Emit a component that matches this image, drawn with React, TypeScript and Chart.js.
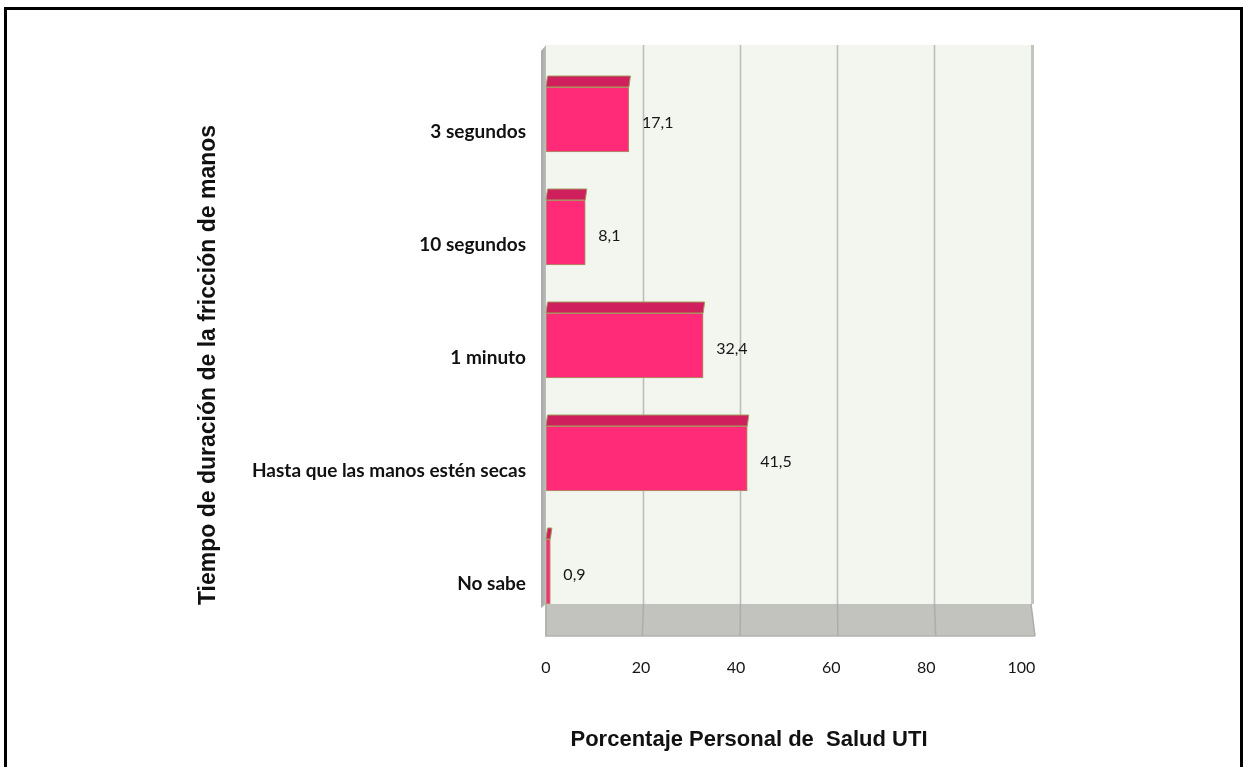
import { useEffect, useRef } from 'react';
import { Chart, registerables } from 'chart.js';

Chart.register(...registerables);

// Data
const categories = ['3 segundos', '10 segundos', '1 minuto', 'Hasta que las manos estén secas', 'No sabe'];
const percentages = [17.1, 8.1, 32.4, 41.5, 0.9];
const xTickValues = [0, 20, 40, 60, 80, 100];
const xTitle = 'Porcentaje Personal de  Salud UTI';
const yTitle = 'Tiempo de duración de la fricción de manos';

// Canvas and scene geometry
const W = 1244;
const H = 767;
const PLOT_LEFT = 546;
const PLOT_RIGHT = 1031;
const PLOT_TOP = 63;
const PLOT_BOTTOM = 628;
const WALL_TOP = 45;
const FLOOR_TOP = 604;
const FLOOR_BOTTOM = 636;
const BAR_DEPTH = 11;
const FRONT_SCALE = 0.98; // front edge of the floor is slightly narrower than the back wall
const TICK_LABEL_Y = 668;

const BAR_FRONT = '#FF2B79';
const BAR_TOP = '#CF1F5D';
const BAR_EDGE = '#A29C5E';
const WALL = '#F3F5EF';
const FLOOR = '#C2C3BE';
const GRID = '#BEBEBC';

const CAT_FONT = 'Lato, "Open Sans", sans-serif';
const TITLE_FONT = '"Liberation Sans", Arial, sans-serif';

const formatValue = (v: number) => v.toFixed(1).replace('.', ',');

const scenePlugin = {
  id: 'scene3d',
  beforeDraw(chart: any) {
    const { ctx } = chart;
    const xs = chart.scales.x;
    ctx.save();
    ctx.fillStyle = '#ffffff';
    ctx.fillRect(0, 0, W, H);

    const x0 = xs.getPixelForValue(0);
    const x100 = xs.getPixelForValue(100);

    // back wall
    ctx.fillStyle = WALL;
    ctx.fillRect(x0, WALL_TOP, x100 - x0, FLOOR_TOP - WALL_TOP);

    // floor
    ctx.fillStyle = FLOOR;
    ctx.beginPath();
    ctx.moveTo(x0 - 1, FLOOR_TOP);
    ctx.lineTo(x100, FLOOR_TOP);
    ctx.lineTo(x100 + 4, FLOOR_BOTTOM);
    ctx.lineTo(x0 - 1, FLOOR_BOTTOM);
    ctx.closePath();
    ctx.fill();
    ctx.strokeStyle = '#B2B3AE';
    ctx.lineWidth = 1.5;
    ctx.beginPath();
    ctx.moveTo(x0 - 1, FLOOR_BOTTOM);
    ctx.lineTo(x100 + 4, FLOOR_BOTTOM);
    ctx.stroke();

    // vertical grid lines on wall and floor
    ctx.lineWidth = 1.6;
    xTickValues.forEach((v) => {
      if (v === 0 || v === 100) return;
      const px = Math.round(xs.getPixelForValue(v)) + 0.5;
      ctx.strokeStyle = GRID;
      ctx.beginPath();
      ctx.moveTo(px, WALL_TOP);
      ctx.lineTo(px, FLOOR_TOP);
      ctx.stroke();
      ctx.strokeStyle = '#ADAEA9';
      ctx.beginPath();
      ctx.moveTo(px, FLOOR_TOP);
      ctx.lineTo(px + (v - 50) / 25, FLOOR_BOTTOM);
      ctx.stroke();
    });

    // right wall edge
    ctx.strokeStyle = '#C4C4C2';
    ctx.lineWidth = 3;
    ctx.beginPath();
    ctx.moveTo(x100 + 1.5, WALL_TOP);
    ctx.lineTo(x100 + 1.5, FLOOR_TOP);
    ctx.stroke();
    ctx.strokeStyle = '#ADAEA9';
    ctx.lineWidth = 1.5;
    ctx.beginPath();
    ctx.moveTo(x100, FLOOR_TOP);
    ctx.lineTo(x100 + 4, FLOOR_BOTTOM);
    ctx.stroke();

    // left side wall, seen edge-on
    const g = ctx.createLinearGradient(x0 - 5, 0, x0, 0);
    g.addColorStop(0, '#A6A6A6');
    g.addColorStop(1, '#BDBDBD');
    ctx.fillStyle = g;
    ctx.beginPath();
    ctx.moveTo(x0 - 5, WALL_TOP + 6);
    ctx.lineTo(x0, WALL_TOP);
    ctx.lineTo(x0, FLOOR_TOP);
    ctx.lineTo(x0 - 5, FLOOR_TOP + 4);
    ctx.closePath();
    ctx.fill();
    ctx.fillStyle = '#B4B5B0';
    ctx.fillRect(x0 - 1, FLOOR_TOP, 2, FLOOR_BOTTOM - FLOOR_TOP);
    ctx.restore();
  },
  afterDatasetsDraw(chart: any) {
    const { ctx } = chart;
    const meta = chart.getDatasetMeta(0);
    ctx.save();
    meta.data.forEach((bar: any, i: number) => {
      const { x, y, base, height } = bar.getProps(['x', 'y', 'base', 'height'], true);
      const top = y - height / 2;
      // top face of the box
      ctx.fillStyle = BAR_TOP;
      ctx.strokeStyle = BAR_EDGE;
      ctx.lineWidth = 1;
      ctx.beginPath();
      ctx.moveTo(base, top);
      ctx.lineTo(x, top);
      ctx.lineTo(x + 1.5, top - BAR_DEPTH);
      ctx.lineTo(base + 1.5, top - BAR_DEPTH);
      ctx.closePath();
      ctx.fill();
      ctx.stroke();
      // value label
      ctx.fillStyle = '#161616';
      ctx.font = `16px ${CAT_FONT}`;
      ctx.textAlign = 'left';
      ctx.textBaseline = 'middle';
      ctx.fillText(formatValue(percentages[i]), x + 13, y + 3);
    });
    ctx.restore();
  },
  afterDraw(chart: any) {
    const { ctx } = chart;
    const xs = chart.scales.x;
    const x0 = xs.getPixelForValue(0);

    // value axis labels along the front edge of the floor
    ctx.save();
    ctx.fillStyle = '#161616';
    ctx.font = `16px ${CAT_FONT}`;
    ctx.textAlign = 'center';
    ctx.textBaseline = 'middle';
    xTickValues.forEach((v) => {
      const px = x0 + (xs.getPixelForValue(v) - x0) * FRONT_SCALE;
      ctx.fillText(String(v), px, TICK_LABEL_Y);
    });
    ctx.restore();

    // axis titles
    ctx.save();
    ctx.fillStyle = '#111111';
    ctx.font = `bold 22px ${TITLE_FONT}`;
    ctx.textAlign = 'center';
    ctx.textBaseline = 'middle';
    ctx.fillText(xTitle, 749, 740);
    ctx.font = `bold 23px ${TITLE_FONT}`;
    ctx.translate(209, 365);
    ctx.rotate(-Math.PI / 2);
    ctx.fillText(yTitle, 0, 0);
    ctx.restore();

    // frame
    ctx.save();
    ctx.strokeStyle = '#000000';
    ctx.lineWidth = 3;
    ctx.strokeRect(5.5, 8.5, 1241.5 - 5.5, H + 20);
    ctx.restore();
  },
};

export default function App() {
  const ref = useRef<HTMLCanvasElement | null>(null);

  useEffect(() => {
    if (!ref.current) return;
    const chart = new Chart(ref.current, {
      type: 'bar',
      data: {
        labels: categories,
        datasets: [
          {
            data: percentages,
            backgroundColor: BAR_FRONT,
            borderColor: BAR_EDGE,
            borderWidth: 1,
            borderSkipped: false,
            barThickness: 65,
          },
        ],
      },
      options: {
        indexAxis: 'y',
        responsive: false,
        animation: false,
        devicePixelRatio: 1,
        layout: { padding: { left: 0, top: PLOT_TOP, right: W - PLOT_RIGHT, bottom: 0 } },
        plugins: { legend: { display: false }, tooltip: { enabled: false } },
        scales: {
          x: {
            type: 'linear',
            min: 0,
            max: 100,
            afterBuildTicks: (scale: any) => {
              scale.ticks = xTickValues.map((v) => ({ value: v }));
            },
            afterFit: (scale: any) => {
              scale.height = H - PLOT_BOTTOM;
            },
            grid: { display: false, drawTicks: false },
            border: { display: false },
            ticks: { display: false },
          },
          y: {
            type: 'category',
            afterFit: (scale: any) => {
              scale.width = PLOT_LEFT;
            },
            grid: { display: false, drawTicks: false },
            border: { display: false },
            ticks: {
              padding: 20,
              labelOffset: 12,
              color: '#111111',
              font: { family: CAT_FONT, size: 19, weight: 'bold' },
            },
          },
        },
      },
      plugins: [scenePlugin],
    });
    return () => chart.destroy();
  }, []);

  return (
    <div style={{ position: 'absolute', left: 0, top: 0, width: W, height: H, background: '#fff' }}>
      <canvas ref={ref} width={W} height={H} style={{ display: 'block', width: W, height: H }} />
    </div>
  );
}
